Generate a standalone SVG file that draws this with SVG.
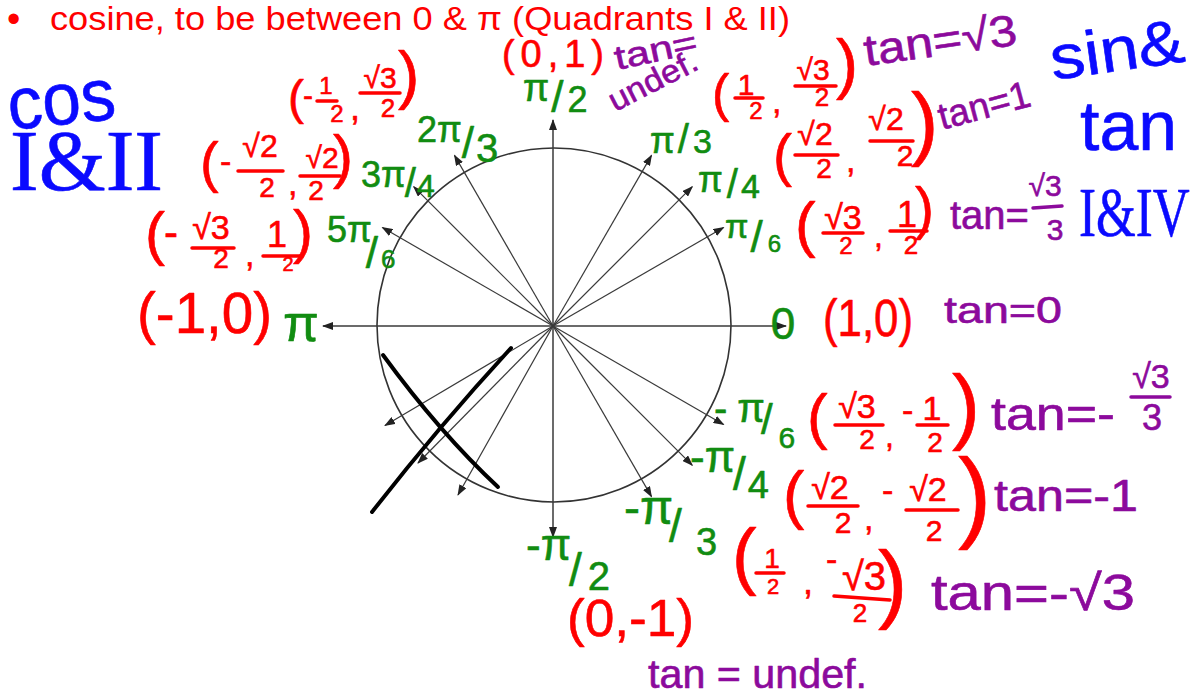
<svg xmlns="http://www.w3.org/2000/svg" width="1200" height="697" viewBox="0 0 1200 697">
<style>
text{font-family:"Liberation Sans","DejaVu Sans",sans-serif;stroke-linejoin:round}
.hdr{fill:#ff0000}
.r{fill:#ff0000;stroke:#ff0000;stroke-width:0.6}
.g{fill:#118c11;stroke:#118c11;stroke-width:0.6}
.p{fill:#8c0a9c;stroke:#8c0a9c;stroke-width:0.6}
.b{fill:#0a0aff;stroke:#0a0aff;stroke-width:0.6}
.sf{font-family:"Liberation Serif","DejaVu Serif",serif}
.m{text-anchor:middle}
.fr{stroke:#ff0000;stroke-width:3.5;stroke-linecap:round;fill:none}
.fpp{stroke:#8c0a9c;stroke-width:3.5;stroke-linecap:round;fill:none}
.ray{stroke:#3a3a3a;stroke-width:1.2;fill:none;marker-end:url(#ah)}
.axis{stroke:#3a3a3a;stroke-width:1.5;fill:none;marker-end:url(#ah)}
.x{stroke:#000;stroke-width:4;stroke-linecap:round;fill:none}
</style>
<defs>
<marker id="ah" markerUnits="userSpaceOnUse" markerWidth="11" markerHeight="8" refX="10" refY="4" orient="auto">
<path d="M0,0 L11,4 L0,8 z" fill="#222"/>
</marker>
</defs>
<rect width="1200" height="697" fill="#ffffff"/>

<g id="header">
<text class="hdr" x="7" y="32" font-size="38">•</text>
<text class="hdr" x="50" y="30" font-size="34" textLength="740" lengthAdjust="spacingAndGlyphs">cosine, to be between 0 &amp; π (Quadrants I &amp; II)</text>
</g>

<g id="unit-circle">
<circle cx="554" cy="325" r="177" fill="none" stroke="#333" stroke-width="1.6"/>
</g>

<g id="connectors">
<line class="axis" x1="553" y1="326" x2="786" y2="326"/>
<line class="axis" x1="553" y1="326" x2="323" y2="326"/>
<line class="axis" x1="553" y1="326" x2="553" y2="120"/>
<line class="axis" x1="553" y1="326" x2="553" y2="537"/>
<line class="ray" x1="553" y1="326" x2="723.6" y2="227.5"/>
<line class="ray" x1="553" y1="326" x2="692.3" y2="186.7"/>
<line class="ray" x1="553" y1="326" x2="651.5" y2="155.4"/>
<line class="ray" x1="553" y1="326" x2="454.5" y2="155.4"/>
<line class="ray" x1="553" y1="326" x2="413.7" y2="186.7"/>
<line class="ray" x1="553" y1="326" x2="382.4" y2="227.5"/>
<line class="ray" x1="553" y1="326" x2="385" y2="425.5"/>
<line class="ray" x1="553" y1="326" x2="418" y2="463"/>
<line class="ray" x1="553" y1="326" x2="458" y2="495"/>
<line class="ray" x1="553" y1="326" x2="651.5" y2="496.6"/>
<line class="ray" x1="553" y1="326" x2="692.3" y2="465.3"/>
<line class="ray" x1="553" y1="326" x2="723.6" y2="424.5"/>
</g>

<g id="cross-out">
<path class="x" d="M383,355 Q440,433 498,487"/>
<path class="x" d="M511,348 Q440,425 372,512"/>
</g>

<g id="label-cos">
<text class="b" x="10" y="130" font-size="74" textLength="108" lengthAdjust="spacingAndGlyphs" transform="rotate(-6 10 130)">cos</text>
<text class="b sf" x="10" y="190" font-size="86" textLength="153" lengthAdjust="spacingAndGlyphs">I&amp;II</text>
</g>

<g id="label-sin-tan">
<text class="b" x="1053" y="80" font-size="62" textLength="135" lengthAdjust="spacingAndGlyphs" transform="rotate(-8 1053 80)">sin&amp;</text>
<text class="b" x="1080" y="150" font-size="70" textLength="97" lengthAdjust="spacingAndGlyphs">tan</text>
<text class="b sf" x="0" y="0" font-size="70" transform="translate(1079 236) scale(0.73 1)">I&amp;IV</text>
</g>

<g id="node-0">
<text class="g m" x="783" y="339" font-size="44">0</text>
<text class="r" x="823" y="336" font-size="52" textLength="90" lengthAdjust="spacingAndGlyphs">(1,0)</text>
<text class="p" x="944" y="323" font-size="36" textLength="118" lengthAdjust="spacingAndGlyphs">tan=0</text>
</g>

<g id="node-pi6">
<text class="g" x="725" y="238" font-size="34">π<tspan dx="2" dy="14" font-size="44">/</tspan><tspan dx="5" font-size="24">6</tspan></text>
<text class="r" x="795" y="245" font-size="62">(</text>
<text class="r m" x="843" y="229" font-size="34">√3</text>
<line class="fr" x1="823" y1="233" x2="863" y2="233"/>
<text class="r m" x="846" y="254" font-size="24">2</text>
<text class="r" x="874" y="247" font-size="32">,</text>
<text class="r m" x="907" y="227" font-size="36">1</text>
<line class="fr" x1="890" y1="231" x2="927" y2="231"/>
<text class="r m" x="911" y="254" font-size="26">2</text>
<text class="r" x="915" y="228" font-size="57">)</text>
<text class="p" x="950" y="229" font-size="40">tan=</text>
<text class="p m" x="1045" y="196" font-size="30">√3</text>
<line class="fpp" x1="1033" y1="208" x2="1062" y2="206"/>
<text class="p m" x="1055" y="240" font-size="30">3</text>
</g>

<g id="node-pi4">
<text class="g" x="698" y="192" font-size="36">π<tspan dx="4" dy="6" font-size="40">/</tspan><tspan dx="3" font-size="34">4</tspan></text>
<text class="r" x="773" y="175" font-size="57">(</text>
<text class="r m" x="815" y="145" font-size="32">√2</text>
<line class="fr" x1="795" y1="155" x2="838" y2="155"/>
<text class="r m" x="824" y="178" font-size="28">2</text>
<text class="r" x="846" y="172" font-size="34">,</text>
<text class="r m" x="886" y="130" font-size="32">√2</text>
<line class="fr" x1="870" y1="141" x2="913" y2="141"/>
<text class="r m" x="905" y="166" font-size="30">2</text>
<text class="r" x="911" y="150" font-size="82">)</text>
<text class="p" x="942" y="130" font-size="38" textLength="94" lengthAdjust="spacingAndGlyphs" transform="rotate(-15 942 130)">tan=1</text>
</g>

<g id="node-pi3">
<text class="g" x="650" y="153" font-size="36">π<tspan dx="3" font-size="40">/</tspan><tspan dx="4" font-size="34">3</tspan></text>
<text class="r" x="712" y="111" font-size="52">(</text>
<text class="r m" x="746" y="95" font-size="30">1</text>
<line class="fr" x1="735" y1="98" x2="763" y2="98"/>
<text class="r m" x="756" y="119" font-size="24">2</text>
<text class="r" x="772" y="113" font-size="34">,</text>
<text class="r m" x="813" y="80" font-size="30">√3</text>
<line class="fr" x1="795" y1="86" x2="836" y2="86"/>
<text class="r m" x="822" y="106" font-size="26">2</text>
<text class="r" x="836" y="86" font-size="66">)</text>
<text class="p" x="866" y="66" font-size="44" textLength="154" lengthAdjust="spacingAndGlyphs" transform="rotate(-8 866 66)">tan=√3</text>
</g>

<g id="node-pi2">
<text class="g" x="523" y="101" font-size="38">π<tspan dx="2" dy="11" font-size="44">/</tspan><tspan dx="4" font-size="36">2</tspan></text>
<text class="r" x="502" y="67" font-size="38" textLength="102" lengthAdjust="spacing">(0,1)</text>
<text class="p" x="617" y="70" font-size="34" textLength="84" lengthAdjust="spacingAndGlyphs" transform="rotate(-12 617 70)">tan=</text>
<text class="p" x="615" y="112" font-size="32" textLength="96" lengthAdjust="spacingAndGlyphs" transform="rotate(-27 615 112)">undef.</text>
</g>

<g id="node-2pi3">
<text class="g" x="417" y="142" font-size="36">2π<tspan dx="0" dy="16" font-size="44">/</tspan><tspan dx="2" dy="4" font-size="40">3</tspan></text>
<text class="r" x="288" y="114" font-size="48">(</text>
<text class="r" x="303" y="106" font-size="30">-</text>
<text class="r m" x="326" y="94" font-size="24">1</text>
<line class="fr" x1="317" y1="101" x2="337" y2="101"/>
<text class="r m" x="337" y="122" font-size="24">2</text>
<text class="r" x="350" y="120" font-size="36">,</text>
<text class="r m" x="380" y="88" font-size="30">√3</text>
<line class="fr" x1="360" y1="93" x2="400" y2="93"/>
<text class="r m" x="388" y="117" font-size="26">2</text>
<text class="r" x="398" y="97" font-size="64">)</text>
</g>

<g id="node-3pi4">
<text class="g" x="361" y="187" font-size="36">3π<tspan dx="-1" dy="10" font-size="40">/</tspan><tspan dx="1" font-size="32">4</tspan></text>
<text class="r" x="200" y="181" font-size="56">(</text>
<text class="r" x="220" y="173" font-size="34">-</text>
<text class="r m" x="260" y="157" font-size="32">√2</text>
<line class="fr" x1="238" y1="171" x2="283" y2="171"/>
<text class="r m" x="267" y="197" font-size="28">2</text>
<text class="r" x="288" y="195" font-size="34">,</text>
<text class="r m" x="322" y="168" font-size="30">√2</text>
<line class="fr" x1="300" y1="176" x2="340" y2="176"/>
<text class="r m" x="316" y="200" font-size="28">2</text>
<text class="r" x="333" y="177" font-size="60">)</text>
</g>

<g id="node-5pi6">
<text class="g" x="327" y="242" font-size="36">5π<tspan dx="-6" dy="26" font-size="44">/</tspan><tspan dx="3" font-size="26">6</tspan></text>
<text class="r" x="145" y="254" font-size="60">(</text>
<text class="r" x="164" y="247" font-size="42">-</text>
<text class="r m" x="211" y="239" font-size="34">√3</text>
<line class="fr" x1="192" y1="248" x2="234" y2="248"/>
<text class="r m" x="221" y="268" font-size="28">2</text>
<text class="r" x="245" y="266" font-size="34">,</text>
<text class="r m" x="277" y="247" font-size="36">1</text>
<line class="fr" x1="263" y1="256" x2="302" y2="256"/>
<text class="r m" x="288" y="271" font-size="20">2</text>
<text class="r" x="293" y="252" font-size="60">)</text>
</g>

<g id="node-pi">
<text class="g" x="283" y="341" font-size="52">π</text>
<text class="r" x="137" y="333" font-size="58" textLength="135" lengthAdjust="spacingAndGlyphs">(-1,0)</text>
</g>

<g id="node-neg-pi6">
<text class="g" x="714" y="422" font-size="40">-<tspan dx="10">π</tspan><tspan font-size="42" dx="-4" dy="12">/</tspan><tspan font-size="30" dx="6" dy="14">6</tspan></text>
<text class="r" x="807" y="437" font-size="62">(</text>
<text class="r m" x="857" y="418" font-size="34">√3</text>
<line class="fr" x1="835" y1="425" x2="883" y2="425"/>
<text class="r m" x="867" y="449" font-size="28">2</text>
<text class="r" x="885" y="447" font-size="32">,</text>
<text class="r" x="902" y="422" font-size="34">-</text>
<text class="r m" x="932" y="420" font-size="34">1</text>
<line class="fr" x1="917" y1="425" x2="948" y2="425"/>
<text class="r m" x="935" y="452" font-size="28">2</text>
<text class="r" x="952" y="434" font-size="84">)</text>
<text class="p" x="991" y="430" font-size="46" textLength="124" lengthAdjust="spacingAndGlyphs">tan=-</text>
<text class="p m" x="1151" y="388" font-size="34">√3</text>
<line class="fpp" x1="1131" y1="397" x2="1170" y2="397"/>
<text class="p m" x="1152" y="430" font-size="36">3</text>
</g>

<g id="node-neg-pi4">
<text class="g" x="690" y="472" font-size="44">-π<tspan dx="-2" dy="18" font-size="46">/</tspan><tspan dx="2" dy="8" font-size="38">4</tspan></text>
<text class="r" x="783" y="517" font-size="64">(</text>
<text class="r m" x="830" y="499" font-size="34">√2</text>
<line class="fr" x1="808" y1="506" x2="858" y2="506"/>
<text class="r m" x="843" y="533" font-size="30">2</text>
<text class="r" x="864" y="530" font-size="34">,</text>
<text class="r" x="882" y="502" font-size="34">-</text>
<text class="r m" x="928" y="501" font-size="34">√2</text>
<line class="fr" x1="906" y1="510" x2="958" y2="510"/>
<text class="r m" x="934" y="541" font-size="30">2</text>
<text class="r" x="958" y="529" font-size="100">)</text>
<text class="p" x="994" y="511" font-size="44" textLength="144" lengthAdjust="spacingAndGlyphs">tan=-1</text>
</g>

<g id="node-neg-pi3">
<text class="g" x="624" y="524" font-size="48">-π<tspan dx="-4" dy="18" font-size="46">/</tspan><tspan dx="14" dy="13" font-size="38">3</tspan></text>
<text class="r" x="732" y="581" font-size="74">(</text>
<text class="r m" x="772" y="568" font-size="28">1</text>
<line class="fr" x1="756" y1="573" x2="784" y2="573"/>
<text class="r m" x="773" y="594" font-size="22">2</text>
<text class="r" x="803" y="594" font-size="36">,</text>
<text class="r" x="826" y="571" font-size="34">-</text>
<text class="r m" x="864" y="590" font-size="40">√3</text>
<line class="fr" x1="834" y1="596" x2="890" y2="600"/>
<text class="r m" x="860" y="622" font-size="26">2</text>
<text class="r" x="878" y="612" font-size="88">)</text>
<text class="p" x="931" y="610" font-size="50" textLength="204" lengthAdjust="spacingAndGlyphs">tan=-√3</text>
</g>

<g id="node-neg-pi2">
<text class="g" x="526" y="560" font-size="44">-π<tspan dx="-2" dy="26" font-size="46">/</tspan><tspan dx="6" dy="4" font-size="40">2</tspan></text>
<text class="r" x="567" y="636" font-size="52" textLength="127" lengthAdjust="spacingAndGlyphs">(0,-1)</text>
<text class="p" x="648" y="688" font-size="40" textLength="219" lengthAdjust="spacingAndGlyphs">tan = undef.</text>
</g>
</svg>
